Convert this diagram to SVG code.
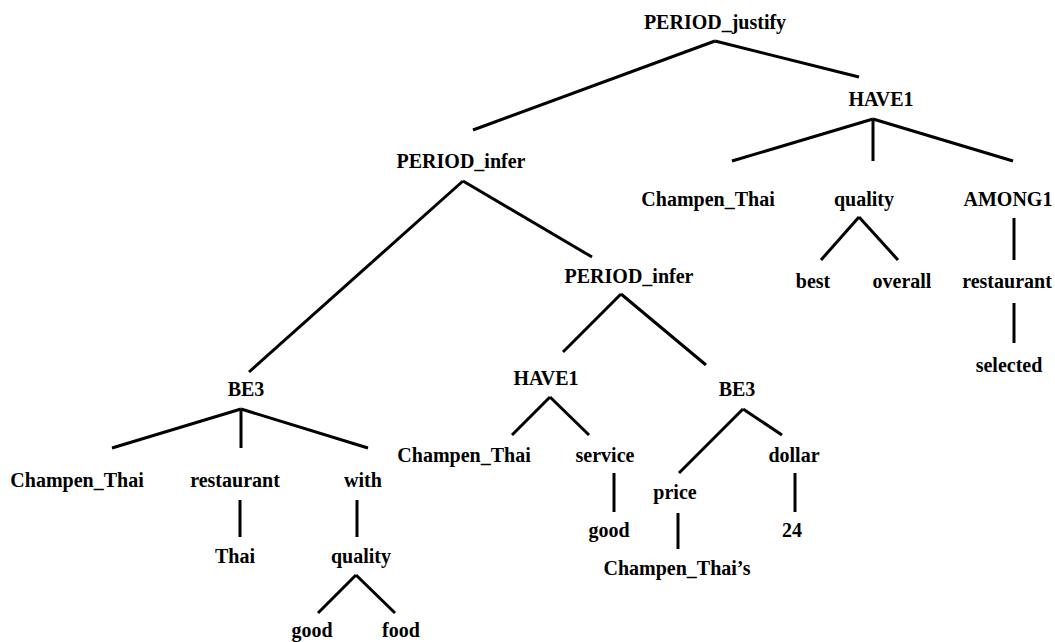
<svg xmlns="http://www.w3.org/2000/svg" width="1055" height="642" viewBox="0 0 1055 642">
<style>
text{font-family:"Liberation Serif","Times New Roman",serif;font-weight:bold;font-size:20px;fill:#000;text-anchor:middle}
line{stroke:#000;stroke-width:3;stroke-linecap:butt}
</style>
<rect width="1055" height="642" fill="#fff"/>
<g id="connectors">
<line x1="715" y1="41" x2="473" y2="130"/>
<line x1="715" y1="41" x2="859" y2="77"/>
<line x1="873" y1="119" x2="732" y2="161"/>
<line x1="873" y1="119" x2="873" y2="161"/>
<line x1="873" y1="119" x2="1013" y2="161"/>
<line x1="859" y1="217" x2="821" y2="260"/>
<line x1="859" y1="217" x2="898" y2="260"/>
<line x1="1014" y1="218" x2="1014" y2="260"/>
<line x1="1014" y1="303" x2="1014" y2="343"/>
<line x1="463" y1="181" x2="249" y2="372"/>
<line x1="463" y1="181" x2="592" y2="257"/>
<line x1="621" y1="294" x2="563" y2="352"/>
<line x1="621" y1="294" x2="706" y2="365"/>
<line x1="550" y1="397" x2="512" y2="435"/>
<line x1="550" y1="397" x2="589" y2="435"/>
<line x1="614" y1="473" x2="614" y2="512"/>
<line x1="743" y1="409" x2="679" y2="473"/>
<line x1="743" y1="409" x2="782" y2="435"/>
<line x1="795" y1="473" x2="795" y2="512"/>
<line x1="678" y1="513" x2="678" y2="549"/>
<line x1="241" y1="409" x2="112" y2="448"/>
<line x1="241" y1="409" x2="241" y2="448"/>
<line x1="241" y1="409" x2="368" y2="448"/>
<line x1="240" y1="500" x2="240" y2="537"/>
<line x1="357" y1="500" x2="357" y2="537"/>
<line x1="356" y1="575" x2="318" y2="613"/>
<line x1="356" y1="575" x2="395" y2="613"/>
</g>
<g id="n1"><text x="715" y="29">PERIOD_justify</text></g>
<g id="n2"><text x="881" y="106">HAVE1</text></g>
<g id="n3"><text x="461" y="168">PERIOD_infer</text></g>
<g id="n4"><text x="708" y="206">Champen_Thai</text></g>
<g id="n5"><text x="864" y="206">quality</text></g>
<g id="n6"><text x="1008" y="206">AMONG1</text></g>
<g id="n7"><text x="813" y="288">best</text></g>
<g id="n8"><text x="902" y="288">overall</text></g>
<g id="n9"><text x="1007" y="288">restaurant</text></g>
<g id="n10"><text x="1009" y="372">selected</text></g>
<g id="n11"><text x="629" y="283">PERIOD_infer</text></g>
<g id="n12"><text x="246" y="396">BE3</text></g>
<g id="n13"><text x="546" y="385">HAVE1</text></g>
<g id="n14"><text x="737" y="396">BE3</text></g>
<g id="n15"><text x="77" y="487">Champen_Thai</text></g>
<g id="n16"><text x="235" y="487">restaurant</text></g>
<g id="n17"><text x="363" y="487">with</text></g>
<g id="n18"><text x="235" y="563">Thai</text></g>
<g id="n19"><text x="361" y="563">quality</text></g>
<g id="n20"><text x="312" y="637">good</text></g>
<g id="n21"><text x="401" y="637">food</text></g>
<g id="n22"><text x="464" y="462">Champen_Thai</text></g>
<g id="n23"><text x="605" y="462">service</text></g>
<g id="n24"><text x="609" y="537">good</text></g>
<g id="n25"><text x="675" y="499">price</text></g>
<g id="n26"><text x="794" y="462">dollar</text></g>
<g id="n27"><text x="792" y="537">24</text></g>
<g id="n28"><text x="677" y="575">Champen_Thai’s</text></g>
</svg>
